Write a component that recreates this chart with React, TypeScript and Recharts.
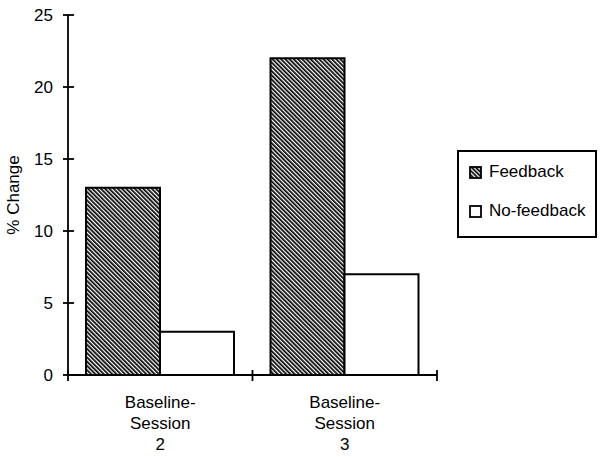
import React from 'react';
import { BarChart, Bar, XAxis, YAxis, Legend } from 'recharts';

const categories = ['Baseline-\nSession\n2', 'Baseline-\nSession\n3'];
const feedback = [13, 22];
const noFeedback = [3, 7];
const yTicks = [0, 5, 10, 15, 20, 25];

const data = categories.map((c, i) => ({ name: c, feedback: feedback[i], noFeedback: noFeedback[i] }));

const FONT = '"Liberation Sans", Arial, Helvetica, sans-serif';
const FS = 17;
const W = 600;
const H = 457;
const M = { top: 15, right: 163, bottom: 0, left: 0 };
const Y_W = 68;
const X_H = 82;
const BAND = (W - M.left - M.right - Y_W) / categories.length;

const YTick = (props: any) => {
  const { x, y, payload } = props;
  return (
    <g>
      <line x1={x - 5} x2={x + 6} y1={y} y2={y} stroke="#000" strokeWidth={1.8} />
      <text x={x - 15} y={y} dy={6} textAnchor="end" fontSize={FS} fontFamily={FONT} fill="#000">
        {payload.value}
      </text>
    </g>
  );
};

const XTick = (props: any) => {
  const { x, y, payload, index } = props;
  const lines = String(payload.value).split('\n');
  return (
    <g>
      <line x1={x - BAND / 2} x2={x - BAND / 2} y1={y - 5} y2={y + 6} stroke="#000" strokeWidth={1.8} />
      {index === categories.length - 1 && (
        <line x1={x + BAND / 2} x2={x + BAND / 2} y1={y - 5} y2={y + 6} stroke="#000" strokeWidth={1.8} />
      )}
      <text x={x} y={y + 33} textAnchor="middle" fontSize={FS} fontFamily={FONT} fill="#000">
        {lines.map((l, i) => (
          <tspan key={i} x={x} dy={i === 0 ? 0 : 21}>
            {l}
          </tspan>
        ))}
      </text>
    </g>
  );
};

const Hatch = ({ id }: { id: string }) => (
  <pattern id={id} patternUnits="userSpaceOnUse" width={3} height={3} patternTransform="rotate(-45)">
    <rect x={0} y={0} width={3} height={3} fill="#fff" />
    <rect x={0} y={0} width={1.7} height={3} fill="#000" />
  </pattern>
);

const LegendBox = () => (
  <div
    style={{
      boxSizing: 'border-box',
      width: 140,
      height: 88,
      border: '2px solid #000',
      fontFamily: FONT,
      fontSize: FS,
      color: '#000',
      background: '#fff',
    }}
  >
    <div style={{ display: 'flex', alignItems: 'center', position: 'absolute', left: 12, top: 12 }}>
      <svg width={13} height={13} style={{ display: 'block' }}>
        <defs>
          <Hatch id="hatchLegend" />
        </defs>
        <rect x={1} y={1} width={11} height={11} fill="url(#hatchLegend)" stroke="#000" strokeWidth={1.8} />
      </svg>
      <span style={{ marginLeft: 7 }}>Feedback</span>
    </div>
    <div style={{ display: 'flex', alignItems: 'center', position: 'absolute', left: 12, top: 51 }}>
      <svg width={13} height={13} style={{ display: 'block' }}>
        <rect x={1} y={1} width={11} height={11} fill="#fff" stroke="#000" strokeWidth={1.8} />
      </svg>
      <span style={{ marginLeft: 7 }}>No-feedback</span>
    </div>
  </div>
);

export default function App() {
  return (
    <div style={{ position: 'absolute', left: 0, top: 0, width: W, height: H, background: '#fff' }}>
      <BarChart width={W} height={H} data={data} margin={M} barCategoryGap={18} barGap={0}>
        <defs>
          <Hatch id="hatchBar" />
        </defs>
        <YAxis
          width={Y_W}
          domain={[0, 25]}
          ticks={yTicks}
          interval={0}
          tickLine={false}
          tickSize={0}
          tickMargin={0}
          axisLine={{ stroke: '#000', strokeWidth: 1.8 }}
          tick={<YTick />}
          label={{
            value: '% Change',
            angle: -90,
            position: 'insideLeft',
            dx: 8,
            style: { fontFamily: FONT, fontSize: FS, fill: '#000', textAnchor: 'middle' },
          }}
        />
        <XAxis
          dataKey="name"
          height={X_H}
          interval={0}
          tickLine={false}
          tickSize={0}
          tickMargin={0}
          axisLine={{ stroke: '#000', strokeWidth: 1.8 }}
          tick={<XTick />}
        />
        <Legend
          layout="horizontal"
          verticalAlign="middle"
          align="center"
          content={<LegendBox />}
          wrapperStyle={{ position: 'absolute', left: 457, top: 150, width: 140, height: 88 }}
        />
        <Bar dataKey="feedback" name="Feedback" fill="url(#hatchBar)" stroke="#000" strokeWidth={2} isAnimationActive={false} />
        <Bar dataKey="noFeedback" name="No-feedback" fill="#fff" stroke="#000" strokeWidth={2} isAnimationActive={false} />
      </BarChart>
    </div>
  );
}
